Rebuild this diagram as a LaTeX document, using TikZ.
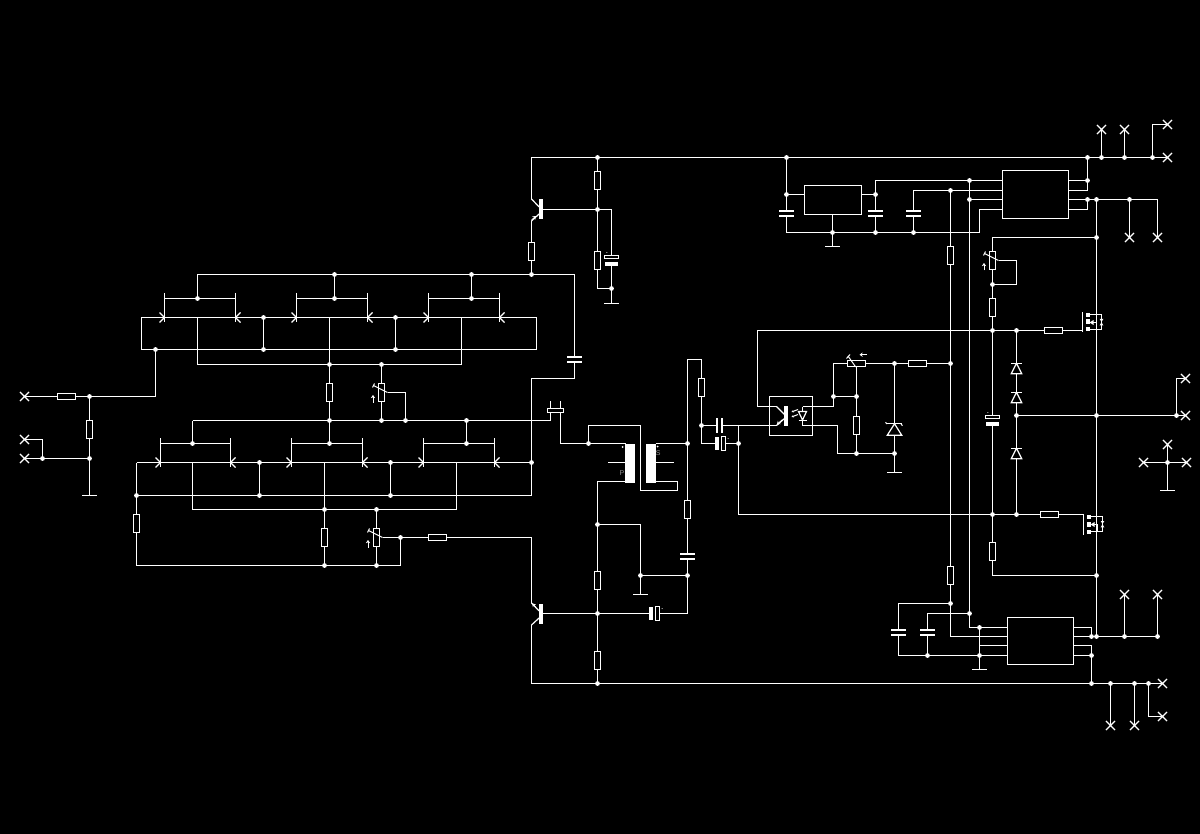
\documentclass[tikz,border=0pt]{standalone}
\usepackage{fontspec}
\setmainfont{Liberation Sans}
\usetikzlibrary{shapes.misc,arrows.meta}
\pgfdeclarelayer{back}\pgfdeclarelayer{wires}
\pgfsetlayers{back,wires,main}
\tikzset{
  wire/.style={draw=white,line width=1.2pt,line join=miter},
  thin wire/.style={draw=white,line width=1pt},
  jdot/.style={circle,fill=white,inner sep=0pt,minimum size=4.8pt},
  xmark/.style={cross out,draw=white,line width=1.1pt,inner sep=0pt,minimum size=8pt},
  gndbar/.style={rectangle,fill=white,inner sep=0pt,minimum width=15pt,minimum height=1pt},
  resv/.style={rectangle,draw=white,line width=1.2pt,fill=black,inner sep=0pt,minimum width=6pt,minimum height=18pt},
  resh/.style={rectangle,draw=white,line width=1.2pt,fill=black,inner sep=0pt,minimum width=18pt,minimum height=6pt},
  capH/.style={rectangle,inner sep=0pt,minimum width=15pt,minimum height=7pt},
  capV/.style={rectangle,inner sep=0pt,minimum width=7pt,minimum height=15pt},
  elH/.style={rectangle,inner sep=0pt,minimum width=13pt,minimum height=10pt},
  elV/.style={rectangle,inner sep=0pt,minimum width=10pt,minimum height=13pt},
  icbox/.style={rectangle,draw=white,line width=1.2pt,inner sep=0pt},
  bjtbar/.style={rectangle,fill=white,inner sep=0pt,minimum width=4pt,minimum height=20pt},
  corebar/.style={rectangle,fill=white,inner sep=0pt,minimum width=10pt,minimum height=39pt},
  zen/.style={rectangle,inner sep=0pt},
  crystal/.style={rectangle,draw=white,line width=1.1pt,fill=black,inner sep=0pt,minimum width=16pt,minimum height=4pt},
  gatebar/.style={rectangle,draw=white,line width=1pt,inner sep=0pt,minimum width=0.2pt,minimum height=19pt},
  smallarrow/.style={draw=white,line width=0.8pt,-{Stealth[length=3.2pt,width=4.4pt]}},
  lbl/.style={text=gray!85,font=\fontsize{7}{7}\selectfont,inner sep=0pt},
}
\newcommand\Sn[2]{\pgfmathsetmacro#1{floor(#2)+0.5}}
\newcommand\Jn[3]{\Sn\sx{#2}\Sn\sy{#3}\node[jdot] (#1) at (\sx,\sy) {};}
\newcommand\Cn[3]{\Sn\sx{#2}\Sn\sy{#3}\coordinate (#1) at (\sx,\sy);}
\newcommand\Xn[3]{\Sn\sx{#2}\Sn\sy{#3}\node[xmark] (#1) at (\sx,\sy) {};}
\newcommand\Gn[3]{\Sn\sx{#2}\Sn\sy{#3}\node[gndbar] (#1) at (\sx,\sy) {};}
\newcommand\Rv[3]{\Sn\sx{#2}\Sn\sy{#3}\node[resv] (#1) at (\sx,\sy) {};}
\newcommand\Rh[3]{\Sn\sx{#2}\Sn\sy{#3}\node[resh] (#1) at (\sx,\sy) {};}
\newcommand\CapH[3]{\Sn\sx{#2}\Sn\sy{#3}\node[capH] (#1) at (\sx,\sy) {};
  \fill[white] (#1.north west) rectangle ([yshift=-2pt]#1.north east);
  \fill[white] (#1.south west) rectangle ([yshift=2pt]#1.south east);}
\newcommand\CapV[3]{\Sn\sx{#2}\Sn\sy{#3}\node[capV] (#1) at (\sx,\sy) {};
  \fill[white] (#1.north west) rectangle ([xshift=2pt]#1.south west);
  \fill[white] (#1.north east) rectangle ([xshift=-2pt]#1.south east);}
\newcommand\ElH[3]{\Sn\sx{#2}\Sn\sy{#3}\node[elH] (#1) at (\sx,\sy) {};
  \draw[draw=white,line width=1pt] (#1.north west) rectangle ([yshift=-3.6pt]#1.north east);
  \fill[white] (#1.south west) rectangle ([yshift=3.8pt]#1.south east);
  \fill[white] ([shift={(-4.7,-8)}]#1.center) circle (0.5pt);}
\newcommand\ElV[3]{\Sn\sx{#2}\Sn\sy{#3}\node[elV] (#1) at (\sx,\sy) {};
  \fill[white] (#1.north west) rectangle ([xshift=3.6pt]#1.south west);
  \draw[draw=white,line width=1pt] (#1.north east) rectangle ([xshift=-4pt]#1.south east);
  \fill[white] ([shift={(7.5,-5)}]#1.center) circle (0.5pt);}
\newcommand\PotV[3]{\Rv{#1}{#2}{#3}
  \coordinate (#1t) at ([shift={(6,0)}]#1.center);
  \draw[thin wire] ([shift={(-8,-7)}]#1.center) -- (#1t);
  \draw[thin wire] ([shift={(-9,-5)}]#1.center) -- ([shift={(-7,-9)}]#1.center);
  \draw[smallarrow] ([shift={(-8.5,10)}]#1.center) -- ([shift={(-8.5,2.5)}]#1.center);}
\newcommand\Tick[3]{\Sn\tx{#1}\draw[wire] (\tx,#2) -- (\tx,#3);}
\newcommand\ChevR[2]{\Sn\tx{#1}\Sn\ty{#2}\draw[wire] (\tx-5,\ty-5) -- (\tx,\ty) -- (\tx-5,\ty+5);}
\newcommand\ChevL[2]{\Sn\tx{#1}\Sn\ty{#2}\draw[wire] (\tx+5,\ty-5) -- (\tx,\ty) -- (\tx+5,\ty+5);}
\newcommand\Bridge[4]{% xl, xr, ybar, ywire
  \Tick{#1}{#3-5}{#4+5}\Tick{#2}{#3-5}{#4+5}
  \Sn\txa{#1}\Sn\txb{#2}\Sn\tyb{#3}
  \draw[wire] (\txa,\tyb) -- (\txb,\tyb);
  \ChevR{#1}{#4}\ChevL{#2}{#4}}
\newcommand\BJT[3]{\Sn\sx{#2}\Sn\sy{#3}\node[bjtbar] (#1) at (\sx+9.5,\sy) {};
  \coordinate (#1a) at (\sx,\sy-10.5);
  \coordinate (#1b) at (\sx,\sy+11.5);
  \draw[wire] (#1a) -- (\sx+7.6,\sy-2.6);
  \draw[wire] (#1b) -- (\sx+7.6,\sy+4.5);}
\newcommand\Zener[5]{\Sn\sx{#2}\Sn\sy{#3}\node[zen,minimum width=#4pt,minimum height=#5pt] (#1) at (\sx,\sy) {};
  \draw[wire] (#1.south west) -- (#1.south east) -- (#1.north) -- cycle;
  \draw[wire] (#1.north west) -- (#1.north east);}
\newcommand\Mos[3]{% name, gate bar x, centre y
  \Sn\sx{#2}\Sn\sy{#3}
  \node[gatebar] (#1) at (\sx,\sy) {};
  \fill[white] (\sx+3,\sy-9.5) rectangle (\sx+7,\sy-5.5);
  \fill[white] (\sx+3,\sy-3) rectangle (\sx+7,\sy+2);
  \fill[white] (\sx+3,\sy+5) rectangle (\sx+7,\sy+9);
  \draw[thin wire] (\sx+7,\sy-8) -- (\sx+19,\sy-8) -- (\sx+19,\sy+7) -- (\sx+7,\sy+7);
  \draw[thin wire] (\sx+7,\sy) -- (\sx+14,\sy) -- (\sx+14,\sy+7);
  \fill[white] (\sx+7,\sy) -- (\sx+11,\sy-2.5) -- (\sx+11,\sy+2.5) -- cycle;
  \fill[white] (\sx+17.2,\sy-3.5) -- (\sx+20.8,\sy-3.5) -- (\sx+19,\sy-0.5) -- cycle;
  \fill[white] (\sx+17.2,\sy+2.8) -- (\sx+20.8,\sy+2.8) -- (\sx+19,\sy-0.2) -- cycle;}
\begin{document}
\begin{tikzpicture}[x=1pt,y=-1pt]
\begin{pgfonlayer}{back}
  \fill[black] (0,0) rectangle (1200,834);
\end{pgfonlayer}
\useasboundingbox (0,0) rectangle (1200,834);

% ---------- input section
\Xn{xa}{24}{396}\Xn{xb}{24}{439}\Xn{xc}{24}{458}
\Rh{Ra}{66}{396}\Jn{ja}{89}{396}\Rv{Rb}{89}{429}\Jn{jb}{89}{458}\Jn{jc}{42}{458}
\Cn{cb}{42}{439}\Gn{ga}{89}{495}\Cn{cc}{155}{396}\Jn{jd}{155}{349}

% ---------- upper bridge
\Cn{ua}{197}{274}\Jn{ub}{334}{274}\Jn{uc}{471}{274}\Jn{ud}{531}{274}\Cn{ue}{574}{274}
\CapH{Ca}{574}{359}\Cn{uf}{574}{378}\Cn{ug}{531}{378}
\Jn{ba}{197}{298}\Jn{bb}{334}{298}\Jn{bc}{471}{298}
\Bridge{164}{235}{298}{317}\Bridge{296}{367}{298}{317}\Bridge{428}{499}{298}{317}
\Cn{wa}{141}{317}\Cn{wb}{197}{317}\Jn{wc}{263}{317}\Cn{wd}{329}{317}\Jn{we}{395}{317}\Cn{wf}{461}{317}\Cn{wg}{536}{317}
\Cn{la}{141}{349}\Jn{lb}{263}{349}\Jn{lc}{395}{349}\Cn{ld}{536}{349}
\Cn{ma}{197}{364}\Jn{mb}{329}{364}\Jn{mc}{381}{364}\Cn{md}{461}{364}

% ---------- middle rail
\Rv{Rc}{329}{392}\PotV{Pa}{381}{392}
\Jn{na}{329}{420}\Jn{nb}{381}{420}\Jn{nc}{405}{420}\Jn{nd}{466}{420}
\Cn{n0}{192}{420}\Cn{ne}{550}{420}\Cn{nf}{405}{392}
\node[crystal] (Xt) at (555.5,410.5) {};
\Tick{550}{408}{401}\Tick{560}{408}{401}
\Cn{xl}{550}{412}\Cn{xr}{560}{412}

% ---------- lower bridge
\Jn{da}{192}{443}\Jn{db}{329}{443}\Jn{dc}{466}{443}
\Bridge{160}{230}{443}{462}\Bridge{291}{362}{443}{462}\Bridge{423}{494}{443}{462}
\Cn{va}{136}{462}\Cn{vb}{192}{462}\Jn{vc}{259}{462}\Cn{vd}{324}{462}\Jn{ve}{390}{462}\Cn{vf}{456}{462}\Jn{vg}{531}{462}
\Jn{ka}{136}{495}\Jn{kb}{259}{495}\Jn{kc}{390}{495}\Cn{kd}{531}{495}
\Cn{ha}{192}{509}\Jn{hb}{324}{509}\Jn{hc}{376}{509}\Cn{hd}{456}{509}
\Rv{Rd}{136}{523}\Rv{Re}{324}{537}\PotV{Pb}{376}{537}
\Cn{sa}{136}{565}\Jn{sb}{324}{565}\Jn{sc}{376}{565}\Cn{sd}{400}{565}
\Jn{ta}{400}{537}\Rh{Rf}{437}{537}\Cn{tb}{531}{537}

% ---------- transformer
\Cn{ya}{560}{443}\Jn{yb}{588}{443}\Cn{yc}{588}{425}\Cn{yd}{640}{425}\Cn{ye}{640}{490}\Cn{yf}{677}{490}\Cn{yg}{677}{481}
\node[corebar] (Tp) at (630,463) {};
\node[corebar] (Ts) at (650.7,463) {};
\Cn{tp1}{625}{443}\Cn{tp2}{625}{481}\Cn{tp3}{625}{462}\Cn{tp4}{607}{462}
\Cn{ts1}{655}{443}\Cn{ts2}{655}{481}\Cn{ts3}{655}{462}\Cn{ts4}{673}{462}
\fill[white] (622.5,447) circle (1pt);
\fill[white] (657.7,446.5) circle (1pt);
\node[lbl] (Lp) at (622,473) {P};
\node[lbl] (Ls) at (658.3,453) {S};
\Cn{ym}{597}{481}\Jn{yn}{597}{524}\Rv{Rg}{597}{580}\Jn{yo}{597}{613}\Rv{Rh}{597}{660}\Jn{yp}{597}{683}
\Cn{yq}{640}{524}\Jn{yr}{640}{575}\Gn{gb}{640}{594}\Jn{ys}{687}{575}
\ElV{Ea}{654}{613}\Cn{yt}{687}{613}\CapH{Cb}{687}{556}\Rv{Ri}{687}{509}\Jn{yu}{687}{443}
\Cn{yv}{687}{359}\Cn{yw}{701}{359}\Rv{Rj}{701}{387}\Jn{yx}{701}{425}\Cn{yy}{701}{443}
\CapV{Cc}{719}{425}\ElV{Eb}{720}{443}\Jn{yz}{738}{443}
\Cn{za}{738}{425}\Cn{zb}{769}{425}\Cn{zc}{738}{514}

% ---------- lower transistor
\BJT{Qb}{531}{613}
\draw[smallarrow] (535.8,607.3) -- (532.4,603.5);
\Cn{bza}{531}{683}

% ---------- top rail and upper transistor
\Cn{aa}{531}{157}\Jn{ab}{597}{157}\Jn{ac}{786}{157}\Jn{ad}{1087}{157}\Jn{ae}{1101}{157}\Jn{af}{1124}{157}\Jn{ag}{1152}{157}
\Xn{xd}{1167}{157}\Xn{xe}{1101}{129}\Xn{xf}{1124}{129}\Xn{xg}{1167}{124}\Cn{ah}{1152}{124}
\BJT{Qa}{531}{209}
\draw[smallarrow] (531.6,220) -- (536,216);
\Rv{Rk}{531}{251}\Rv{Rl}{597}{180}\Jn{ai}{597}{209}\Rv{Rm}{597}{260}\Cn{aj}{597}{288}\Jn{ak}{611}{288}\Gn{gc}{611}{303}
\Cn{al}{611}{209}\ElH{Ec}{611}{260}

% ---------- regulator and upper driver
\node[icbox,minimum width=57pt,minimum height=29pt] (Reg) at (833,200) {};
\node[icbox,minimum width=66pt,minimum height=48pt] (Ua) at (1035.5,194.5) {};
\Jn{ra}{786}{194}\CapH{Cd}{786}{213}\Cn{rb}{786}{232}\Jn{rc}{832}{232}\Jn{rd}{875}{232}\Jn{re}{913}{232}\Cn{rf}{979}{232}\Cn{rg}{979}{209}
\Cn{rl}{804}{194}\Cn{rr}{861}{194}\Jn{rh}{875}{194}\Cn{ri}{875}{180}\Jn{rj}{969}{180}
\Cn{rk}{913}{190}\Jn{rm}{950}{190}\Jn{rn}{969}{199}
\CapH{Ce}{875}{213}\CapH{Cf}{913}{213}\Cn{rq}{832}{214}\Gn{gd}{832}{246}
\Cn{ia}{1002}{180}\Cn{ib}{1002}{190}\Cn{ic}{1002}{199}\Cn{id}{1002}{209}
\Cn{oa}{1068}{180}\Cn{ob}{1068}{190}\Cn{oc}{1068}{199}\Cn{od}{1068}{209}
\Jn{oe}{1087}{180}\Cn{of}{1087}{190}\Jn{og}{1087}{199}\Cn{oh}{1087}{209}\Jn{oi}{1096}{199}\Jn{oj}{1129}{199}\Cn{ok}{1157}{199}
\Xn{xh}{1129}{237}\Xn{xi}{1157}{237}

% ---------- right column
\Jn{fa}{1096}{237}\Cn{fb}{992}{237}\PotV{Pc}{992}{260}\Cn{fc}{1016}{260}\Cn{fd}{1016}{284}\Jn{fe}{992}{284}
\Rv{Rn}{992}{307}\Jn{ff}{992}{330}\Jn{fg}{1016}{330}\Rh{Ro}{1053}{330}\Cn{fh}{1082}{330}
\Cn{fi}{757}{330}\Cn{fj}{757}{406}
\ElH{Ed}{992}{420}\Jn{fk}{992}{514}\Jn{fl}{1016}{514}\Rh{Rp}{1049}{514}\Cn{fm}{1083}{514}
\Rv{Rq}{992}{551}\Cn{fn}{992}{575}\Jn{fo}{1096}{575}
\Zener{Za}{1016}{368}{10}{10}\Zener{Zb}{1016}{397}{10}{10}\Jn{fp}{1016}{415}\Zener{Zc}{1016}{453}{10}{10}
\Jn{fq}{1096}{415}\Jn{fr}{1176}{415}\Xn{xj}{1185}{415}\Cn{fs}{1176}{378}\Xn{xk}{1185}{378}
\Mos{Ma}{1082}{322}\Mos{Mb}{1083}{524}
\Xn{xl1}{1167}{444}\Xn{xm}{1143}{462}\Xn{xn}{1186}{462}\Jn{fu}{1167}{462}\Gn{ge}{1167}{490}

% ---------- optocoupler and feedback
\node[icbox,minimum width=43pt,minimum height=39pt] (Op) at (791,416) {};
\node[rectangle,fill=white,inner sep=0pt,minimum width=3.7pt,minimum height=20pt] (Ob) at (786.2,416) {};
\Cn{pa}{776}{406}\Cn{pb}{784}{414}\Cn{pc}{776}{425}\Cn{pd}{784}{418}
\draw[wire] (pa)--(pb);
\draw[wire] (pc)--(pd);
\draw[smallarrow] (782,420) -- (777,424.5);
\draw[thin wire,-{Stealth[length=2.2pt,width=2.4pt]}] (798,409.5) -- (791.5,412);
\draw[thin wire,-{Stealth[length=2.2pt,width=2.4pt]}] (798,414.5) -- (791.5,417);
\draw[wire] (798.5,411.5) -- (806.5,411.5) -- (802.5,420) -- cycle;
\draw[wire] (798.5,420.5) -- (806.5,420.5);
\Cn{pe}{802}{406}\Cn{pf}{802}{425}\Cn{pg}{802}{411}\Cn{ph}{802}{420}
\Cn{pi}{833}{406}\Jn{pj}{833}{396}\Cn{pk}{833}{363}
\Rh{Pd}{856}{363}
\draw[thin wire] (848,356) -- (855.7,367);
\draw[thin wire] (846.5,358.5) -- (850,354.5);
\draw[smallarrow] (867,354.7) -- (859.5,354.7);
\Cn{pl}{856}{367}\Jn{pm}{856}{396}\Rv{Rr}{856}{425}\Jn{pn}{856}{453}\Jn{po}{894}{453}\Gn{gf}{894}{472}
\Cn{pp}{837}{425}\Cn{pq}{837}{453}
\Jn{pr}{894}{363}\Rh{Rs}{917}{363}\Jn{ps}{950}{363}
\Zener{Zd}{894}{429}{14}{11}
\draw[thin wire] (887,424) -- (885.5,422.3);
\draw[thin wire] (901,424) -- (902.5,425.7);

% ---------- lower driver
\node[icbox,minimum width=66pt,minimum height=47pt] (Ub) at (1040.5,641) {};
\Rv{Rt}{950}{255}\Rv{Ru}{950}{575}\Jn{qa}{950}{603}\Cn{qb}{950}{636}
\Cn{qc}{898}{603}\CapH{Cg}{898}{632}\Cn{qd}{898}{655}\Jn{qe}{927}{655}\Jn{qf}{979}{655}\Gn{gg}{979}{669}
\Jn{qg}{969}{613}\Cn{qh}{927}{613}\CapH{Ch}{927}{632}\Cn{qi}{969}{627}\Jn{qj}{979}{627}\Cn{qk}{979}{645}
\Cn{ja1}{1007}{627}\Cn{jb1}{1007}{636}\Cn{jc1}{1007}{645}\Cn{jd1}{1007}{655}
\Cn{ka1}{1073}{627}\Cn{kb1}{1073}{636}\Cn{kc1}{1073}{645}\Cn{kd1}{1073}{655}
\Cn{ma1}{1091}{627}\Jn{mb1}{1091}{636}\Jn{mc1}{1096}{636}\Jn{md1}{1124}{636}\Jn{me1}{1157}{636}
\Xn{xo}{1124}{594}\Xn{xp}{1157}{594}
\Cn{mf1}{1091}{645}\Jn{mg1}{1091}{655}
\Jn{za1}{1091}{683}\Jn{zb1}{1110}{683}\Jn{zc1}{1134}{683}\Jn{zd1}{1148}{683}\Xn{xq}{1162}{683}
\Xn{xr1}{1110}{725}\Xn{xs}{1134}{725}\Cn{ze1}{1148}{716}\Xn{xt1}{1162}{716}

\begin{pgfonlayer}{wires}
\begin{scope}[every path/.style={wire}]
% input
\draw (xa.center)--(Ra)--(ja)--(cc)--(jd);
\draw (ja)--(Rb)--(jb)--(ga);
\draw (xc.center)--(jc)--(jb);
\draw (xb.center)--(cb)--(jc);
% upper bridge
\draw (ua)--(ub)--(uc)--(ud)--(ue)--(Ca)--(uf)--(ug)--(vg)--(kd);
\draw (ua)--(ba);\draw (ub)--(bb);\draw (uc)--(bc);
\draw (wa)--(wb)--(wc)--(wd)--(we)--(wf)--(wg)--(ld)--(lc)--(lb)--(jd)--(la)--(wa);
\draw (wb)--(ma)--(mb)--(mc)--(md)--(wf);
\draw (wc)--(lb);\draw (we)--(lc);\draw (wd)--(mb);
% middle rail
\draw (mb)--(Rc)--(na)--(db);
\draw (mc)--(Pa)--(nb);
\draw (Pat)--(nf)--(nc);
\draw (n0)--(na)--(nb)--(nc)--(nd)--(ne)--(xl);
\draw (n0)--(da);\draw (nd)--(dc);
% lower bridge
\draw (va)--(vb)--(vc)--(vd)--(ve)--(vf)--(vg);
\draw (va)--(ka)--(Rd)--(sa)--(sb)--(sc)--(sd)--(ta)--(Rf)--(tb)--(Qba);
\draw (ka)--(kb)--(kc)--(kd);
\draw (vb)--(ha)--(hb)--(hc)--(hd)--(vf);
\draw (vc)--(kb);\draw (ve)--(kc);
\draw (vd)--(hb)--(Re)--(sb);
\draw (hc)--(Pb)--(sc);
\draw (Pbt)--(ta);
% transformer
\draw (xr)--(ya)--(yb)--(tp1);
\draw (yb)--(yc)--(yd)--(ye)--(yf)--(yg)--(ts2);
\draw (ts1)--(yu);\draw (tp3)--(tp4);\draw (ts3)--(ts4);
\draw (tp2)--(ym)--(yn)--(Rg)--(yo)--(Rh)--(yp);
\draw (yn)--(yq)--(yr)--(gb);\draw (yr)--(ys);
\draw (Qb)--(yo)--(Ea)--(yt)--(ys)--(Cb)--(Ri)--(yu)--(yv)--(yw)--(Rj)--(yx)--(yy)--(Eb)--(yz);
\draw (yx)--(Cc)--(za)--(zb);
\draw (za)--(yz)--(zc)--(fk)--(fl)--(Rp)--(fm);
% bottom rail
\draw (Qbb)--(bza)--(yp)--(za1)--(zb1)--(zc1)--(zd1)--(xq.center);
\draw (zb1)--(xr1.center);\draw (zc1)--(xs.center);\draw (zd1)--(ze1)--(xt1.center);
% top rail
\draw (ud)--(Rk)--(Qab);
\draw (Qaa)--(aa)--(ab)--(ac)--(ad)--(ae)--(af)--(ag)--(xd.center);
\draw (ae)--(xe.center);\draw (af)--(xf.center);\draw (ag)--(ah)--(xg.center);
\draw (ab)--(Rl)--(ai)--(Rm)--(aj)--(ak)--(gc);
\draw (Qa)--(ai)--(al)--(Ec)--(ak);
% regulator and driver
\draw (ac)--(ra)--(Cd)--(rb)--(rc)--(rd)--(re)--(rf)--(rg)--(id);
\draw (ra)--(rl);\draw (rr)--(rh)--(ri)--(rj)--(ia);
\draw (rh)--(Ce)--(rd);
\draw (rk)--(rm)--(ib);\draw (rk)--(Cf)--(re);
\draw (rj)--(rn)--(ic);
\draw (rq)--(rc)--(gd);
\draw (oa)--(oe);\draw (ad)--(oe)--(of)--(ob);
\draw (oc)--(og)--(oi)--(oj)--(ok)--(xi.center);
\draw (oj)--(xh.center);
\draw (od)--(oh)--(og);
% right column
\draw (oi)--(fa)--(fq)--(fo)--(mc1);
\draw (fa)--(fb)--(Pc)--(fe)--(Rn)--(ff)--(Ed)--(fk)--(Rq)--(fn)--(fo);
\draw (Pct)--(fc)--(fd)--(fe);
\draw (fi)--(ff)--(fg)--(Ro)--(fh);
\draw (fg)--(Za)--(Zb)--(fp)--(Zc)--(fl);
\draw (fp)--(fq)--(fr)--(xj.center);
\draw (fr)--(fs)--(xk.center);
\draw (xm.center)--(fu)--(xn.center);
\draw (xl1.center)--(fu)--(ge);
% optocoupler
\draw (fi)--(fj)--(pa);
\draw (zb)--(pc);
\draw (pe)--(pg);\draw (ph)--(pf);
\draw (pe)--(pi)--(pj)--(pk)--(Pd)--(pr)--(Rs)--(ps);
\draw (pj)--(pm)--(Rr)--(pn)--(po)--(gf);
\draw (pl)--(pm);
\draw (pf)--(pp)--(pq)--(pn);
\draw (pr)--(Zd)--(po);
% lower driver
\draw (rm)--(Rt)--(ps)--(Ru)--(qa)--(qb)--(jb1);
\draw (qa)--(qc)--(Cg)--(qd)--(qe)--(qf)--(jd1);
\draw (qf)--(gg);
\draw (rn)--(qg)--(qi)--(qj)--(ja1);
\draw (qg)--(qh)--(Ch)--(qe);
\draw (qj)--(qk)--(jc1);\draw (qk)--(qf);
\draw (ka1)--(ma1)--(mb1);
\draw (kb1)--(mb1)--(mc1)--(md1)--(me1);
\draw (md1)--(xo.center);\draw (me1)--(xp.center);
\draw (kc1)--(mf1)--(mg1)--(za1);
\draw (kd1)--(mg1);
\end{scope}
\end{pgfonlayer}
\end{tikzpicture}
\end{document}
